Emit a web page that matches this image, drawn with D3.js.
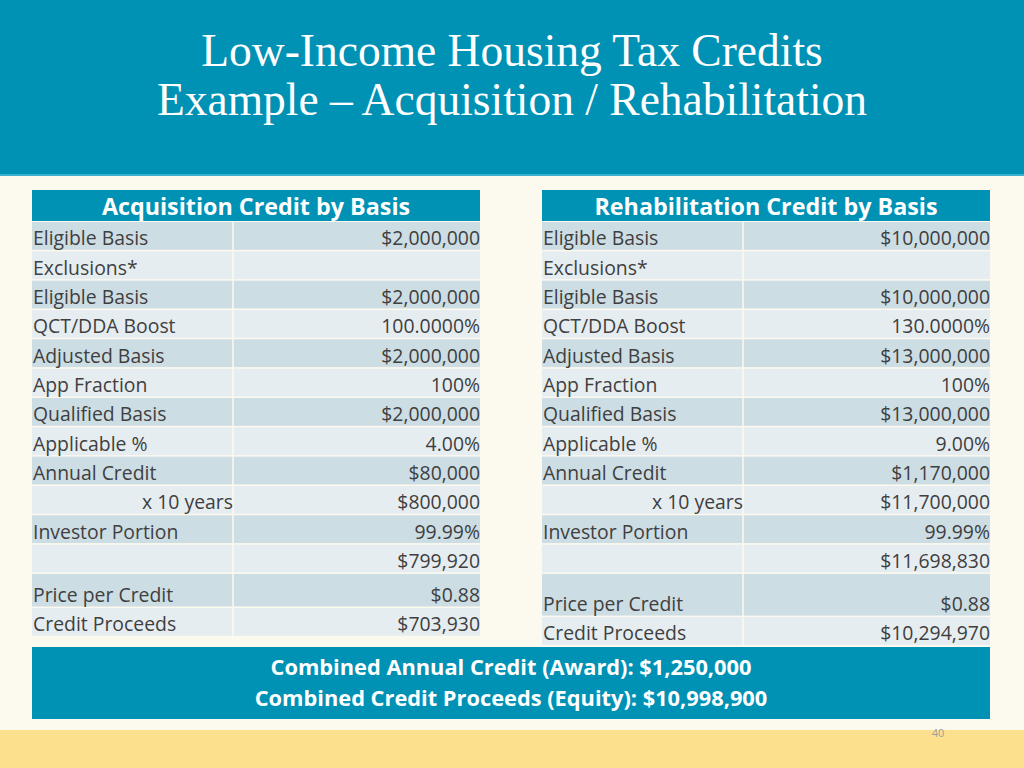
<!DOCTYPE html>
<html>
<head>
<meta charset="utf-8">
<script src="https://cdn.jsdelivr.net/npm/d3@7"></script>
<style>
  html, body { margin: 0; padding: 0; background: #fcf9ef; }
  svg { display: block; }
</style>
</head>
<body>
<svg id="slide"></svg>
<script>
// slide data
var titleLines = ["Low-Income Housing Tax Credits", "Example \u2013 Acquisition / Rehabilitation"];
var rowLabels = ["Eligible Basis", "Exclusions*", "Eligible Basis", "QCT/DDA Boost", "Adjusted Basis",
  "App Fraction", "Qualified Basis", "Applicable %", "Annual Credit", "x 10 years",
  "Investor Portion", "", "Price per Credit", "Credit Proceeds"];
var acqValues = ["$2,000,000", "", "$2,000,000", "100.0000%", "$2,000,000", "100%", "$2,000,000",
  "4.00%", "$80,000", "$800,000", "99.99%", "$799,920", "$0.88", "$703,930"];
var rehabValues = ["$10,000,000", "", "$10,000,000", "130.0000%", "$13,000,000", "100%", "$13,000,000",
  "9.00%", "$1,170,000", "$11,700,000", "99.99%", "$11,698,830", "$0.88", "$10,294,970"];
var tableTitles = ["Acquisition Credit by Basis", "Rehabilitation Credit by Basis"];
var summaryLines = ["Combined Annual Credit (Award): $1,250,000", "Combined Credit Proceeds (Equity): $10,998,900"];
var pageNumber = "40";

var W = 1024, H = 768;
var teal = "#0092b5", ink = "#3f3f3f";
var bodyFont = "'Open Sans', 'Noto Sans', sans-serif";

var svg = d3.select("#slide").attr("width", W).attr("height", H);

// background bands
svg.append("rect").attr("width", W).attr("height", H).attr("fill", "#fcf9ef");
svg.append("rect").attr("width", W).attr("height", 174).attr("fill", teal);
svg.append("rect").attr("y", 174).attr("width", W).attr("height", 2).attr("fill", "#3cb0d0");
svg.append("rect").attr("y", 730).attr("width", W).attr("height", H - 730).attr("fill", "#fde08e");

svg.selectAll("text.title")
  .data(titleLines)
  .enter()
  .append("text")
  .attr("class", "title")
  .attr("x", W / 2)
  .attr("y", function(d, i) { return 66 + i * 49; })
  .attr("text-anchor", "middle")
  .attr("font-family", "'Liberation Serif', 'Times New Roman', serif")
  .attr("font-size", "45.5px")
  .attr("fill", "#ffffff")
  .text(function(d) { return d; });

// one table per side; the price row is taller, more so on the right
var tables = [
  { title: tableTitles[0], values: acqValues, x0: 32, x1: 480, split: 233, priceUnits: 1.16 },
  { title: tableTitles[1], values: rehabValues, x0: 542, x1: 990, split: 743, priceUnits: 1.47 }
];

tables.forEach(function(t) {
  var g = svg.append("g");
  var units = rowLabels.map(function(d, i) { return i === 12 ? t.priceUnits : 1; });
  var cum = [0];
  units.forEach(function(u) { cum.push(cum[cum.length - 1] + u); });
  var y = d3.scaleLinear().domain([0, 1]).range([222, 222 + 29.33]);
  var rows = rowLabels.map(function(label, i) {
    return { label: label, value: t.values[i], top: y(cum[i]), bottom: y(cum[i + 1]), i: i };
  });

  g.append("rect")
    .attr("x", t.x0).attr("y", 190)
    .attr("width", t.x1 - t.x0).attr("height", 31)
    .attr("fill", teal);
  g.append("text")
    .attr("x", (t.x0 + t.x1) / 2).attr("y", 215)
    .attr("text-anchor", "middle")
    .attr("font-family", bodyFont).attr("font-weight", "bold")
    .attr("font-size", "23.3px").attr("fill", "#ffffff")
    .text(t.title);

  g.selectAll("rect.cellL")
    .data(rows)
    .enter()
    .append("rect")
    .attr("x", t.x0).attr("y", function(d) { return d.top; })
    .attr("width", t.split - t.x0 - 0.75)
    .attr("height", function(d) { return d.bottom - d.top - 1.5; })
    .attr("fill", function(d) { return d.i % 2 === 0 ? "#cddde4" : "#e6edf1"; });
  g.selectAll("rect.cellR")
    .data(rows)
    .enter()
    .append("rect")
    .attr("x", t.split + 0.75).attr("y", function(d) { return d.top; })
    .attr("width", t.x1 - t.split - 0.75)
    .attr("height", function(d) { return d.bottom - d.top - 1.5; })
    .attr("fill", function(d) { return d.i % 2 === 0 ? "#cddde4" : "#e6edf1"; });

  g.selectAll("text.label")
    .data(rows)
    .enter()
    .append("text")
    .attr("x", function(d) { return d.label.indexOf("x 10") === 0 ? t.split : t.x0 + 1; })
    .attr("y", function(d) { return d.bottom - 6; })
    .attr("text-anchor", function(d) { return d.label.indexOf("x 10") === 0 ? "end" : "start"; })
    .attr("font-family", bodyFont).attr("font-size", "19.4px").attr("fill", ink)
    .text(function(d) { return d.label; });

  g.selectAll("text.value")
    .data(rows)
    .enter()
    .append("text")
    .attr("x", t.x1)
    .attr("y", function(d) { return d.bottom - 6; })
    .attr("text-anchor", "end")
    .attr("font-family", bodyFont).attr("font-size", "19.4px").attr("fill", ink)
    .text(function(d) { return d.value; });
});

// summary banner
svg.append("rect")
  .attr("x", 32).attr("y", 647)
  .attr("width", 958).attr("height", 72)
  .attr("fill", teal);
svg.selectAll("text.summary")
  .data(summaryLines)
  .enter()
  .append("text")
  .attr("x", 511)
  .attr("y", function(d, i) { return 675 + i * 31; })
  .attr("text-anchor", "middle")
  .attr("font-family", bodyFont).attr("font-weight", "bold")
  .attr("font-size", "21.8px").attr("fill", "#ffffff")
  .text(function(d) { return d; });

svg.append("text")
  .attr("x", 938).attr("y", 737)
  .attr("text-anchor", "middle")
  .attr("font-family", bodyFont).attr("font-size", "11px")
  .attr("fill", "#a09e98")
  .text(pageNumber);
</script>
</body>
</html>
